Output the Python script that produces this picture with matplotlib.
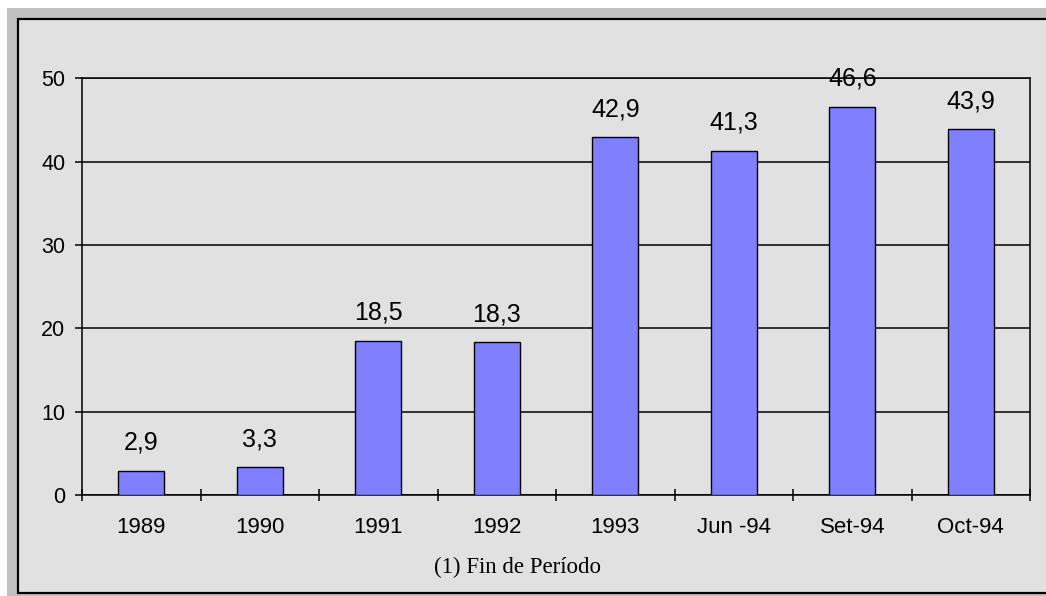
import numpy as np
import matplotlib
matplotlib.use("Agg")
import matplotlib.pyplot as plt
from matplotlib.patches import Rectangle

categories = ["1989", "1990", "1991", "1992", "1993", "Jun -94", "Set-94", "Oct-94"]
values = [2.9, 3.3, 18.5, 18.3, 42.9, 41.3, 46.6, 43.9]
y_ticks = [0, 10, 20, 30, 40, 50]
footnote = "(1) Fin de Período"

W, H = 1046, 596
fig = plt.figure(figsize=(W / 100, H / 100), dpi=100)
fig.patch.set_facecolor("white")

# marco gris exterior y area del grafico (por debajo de los ejes)
fig.patches.append(Rectangle((7 / W, 0), 1, 1 - 8 / H, transform=fig.transFigure,
                             facecolor="#c0c0c0", edgecolor="none", zorder=-3))
fig.patches.append(Rectangle((17.5 / W, 3 / H), 1, 1 - 21.5 / H, transform=fig.transFigure,
                             facecolor="#e1e1e1", edgecolor="black", linewidth=1.6, zorder=-2))

ax = fig.add_axes([82 / W, 1 - 495 / H, (1030 - 82) / W, (495 - 78.3) / H])
ax.set_facecolor("#e1e1e1")

x = np.arange(len(categories))
ax.bar(x, values, width=0.39, color="#8080ff", edgecolor="black", linewidth=1.0, zorder=3)

for xi, v in zip(x, values):
    ax.annotate(f"{v:.1f}".replace(".", ","), (xi, v), xytext=(0, 11.5),
                textcoords="offset points", ha="center", va="bottom",
                fontsize=18, family="Liberation Sans", zorder=4)

ax.set_xlim(-0.5, len(categories) - 0.5)
ax.set_ylim(0, 50)
ax.set_yticks(y_ticks)
ax.set_yticklabels([str(t) for t in y_ticks], family="Liberation Sans", fontsize=15.5)
ax.yaxis.grid(True, color="black", linewidth=1.1, zorder=1)
ax.set_axisbelow(True)

# marcas entre categorias, etiquetas centradas
ax.set_xticks(np.arange(-0.5, len(categories), 1))
ax.set_xticklabels([])
ax.set_xticks(x, minor=True)
ax.set_xticklabels(categories, minor=True, family="Liberation Sans", fontsize=16)
ax.tick_params(axis="x", which="major", direction="inout", length=8.6, width=1.1)
ax.tick_params(axis="x", which="minor", length=0, pad=16)
ax.tick_params(axis="y", direction="out", length=5, width=1.1, pad=7)

for s in ax.spines.values():
    s.set_color("black")
    s.set_linewidth(1.1)

fig.text(518 / W, 1 - 567 / H, footnote, ha="center", va="center",
         family="Liberation Serif", fontsize=16.5)

fig.savefig("out.png", dpi=100)
